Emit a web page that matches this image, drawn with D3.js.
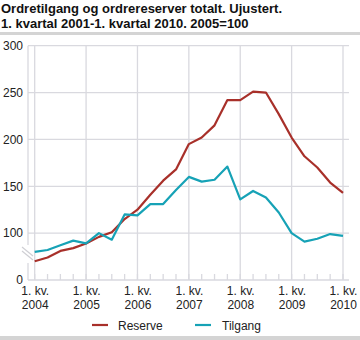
<!DOCTYPE html>
<html><head><meta charset="utf-8">
<script src="https://cdn.jsdelivr.net/npm/d3@7"></script>
<style>body{margin:0;background:#fff}svg{display:block;font-family:"Liberation Sans",Arial,sans-serif}</style>
</head><body><svg id="c" width="360" height="340"></svg>
<script>
const titleLines = ["Ordretilgang og ordrereserver totalt. Ujustert.", "1. kvartal 2001-1. kvartal 2010. 2005=100"];
const quarters = d3.range(25).map(i => `${2004 + Math.floor(i/4)}Q${i%4+1}`);
const yearLabels = ["2004","2005","2006","2007","2008","2009","2010"];
const yTicks = [50,100,150,200,250,300];
const reserve = [70,74,81,84,89,96,101,115,125,141,156,168,195,202,215,242,242,251,250,227,202,182,170,154,143];
const tilgang = [80,82,87,92,89,100,93,120,119,131,131,146,160,155,157,171,136,145,138,122,100,91,94,99,97];
const seriesNames = ["Reserve","Tilgang"];
const colors = ["#a8302a","#16a2b6"];

const svg = d3.select("#c");
const x = d3.scaleLinear().domain([0,24]).range([34.7,343]);
const y = d3.scaleLinear().domain([50,300]).range([280,45.7]);
const grid = "#d9d9df";

svg.append("rect").attr("x",0).attr("y",32).attr("width",360).attr("height",3).attr("fill","#d4d4d4");
svg.append("rect").attr("x",0).attr("y",336).attr("width",360).attr("height",4).attr("fill","#d4d4d4");
titleLines.forEach((t,i)=>svg.append("text").attr("x",1).attr("y",13+i*15).attr("font-size",13).attr("font-weight","bold").attr("fill","#111").text(t));

// horizontal grid
svg.append("g").selectAll("line").data(yTicks.filter(d=>d>50)).join("line")
  .attr("x1",28).attr("x2",349).attr("y1",d=>y(d)).attr("y2",d=>y(d)).attr("stroke",grid).attr("stroke-width",1.3);
// vertical year grid
svg.append("g").selectAll("line").data(d3.range(0,25,4)).join("line")
  .attr("x1",d=>x(d)).attr("x2",d=>x(d)).attr("y1",y(300)).attr("y2",y(50)).attr("stroke",grid).attr("stroke-width",1.3);
// left axis line with break
svg.append("line").attr("x1",28).attr("x2",28).attr("y1",y(300)).attr("y2",245).attr("stroke",grid).attr("stroke-width",1.3);
svg.append("line").attr("x1",28).attr("x2",28).attr("y1",263).attr("y2",280).attr("stroke",grid).attr("stroke-width",1.3);
svg.append("line").attr("x1",22).attr("x2",33).attr("y1",247).attr("y2",256).attr("stroke","#cfcfd4").attr("stroke-width",1.2);
svg.append("line").attr("x1",22).attr("x2",33).attr("y1",251).attr("y2",260).attr("stroke","#cfcfd4").attr("stroke-width",1.2);
// bottom axis
svg.append("line").attr("x1",28).attr("x2",349).attr("y1",280).attr("y2",280).attr("stroke",grid).attr("stroke-width",1.3);
svg.append("g").selectAll("line").data(d3.range(25)).join("line")
  .attr("x1",d=>x(d)).attr("x2",d=>x(d)).attr("y1",274).attr("y2",280).attr("stroke",grid).attr("stroke-width",1.3);

// y axis labels
const ya = svg.append("g").attr("transform","translate(23,0)")
  .call(d3.axisLeft(y).tickValues(yTicks).tickSize(0).tickPadding(0).tickFormat(d=>d===50?"0":d));
ya.select(".domain").remove();
ya.selectAll("text").attr("font-size",12).attr("fill","#222").attr("font-family","Liberation Sans, Arial, sans-serif");

// x axis labels
const xa = svg.append("g").attr("transform","translate(0,284)")
  .call(d3.axisBottom(x).tickValues(d3.range(0,25,4)).tickSize(0).tickPadding(0).tickFormat(()=>""));
xa.select(".domain").remove();
xa.selectAll(".tick").each(function(d,i){
  const g=d3.select(this);
  g.append("text").attr("y",11).attr("text-anchor","middle").attr("font-size",12).attr("fill","#222").text("1. kv.");
  g.append("text").attr("y",25).attr("text-anchor","middle").attr("font-size",12).attr("fill","#222").text(yearLabels[i]);
});

const line = d3.line().x((d,i)=>x(i)).y(d=>y(d));
[reserve,tilgang].forEach((s,k)=>svg.append("path").datum(s).attr("d",line).attr("fill","none")
  .attr("stroke",colors[k]).attr("stroke-width",2.2).attr("stroke-linejoin","round"));

// legend
const lg=[{x:92,tx:118},{x:195,tx:222}];
seriesNames.forEach((n,k)=>{
  svg.append("line").attr("x1",lg[k].x).attr("x2",lg[k].x+16).attr("y1",325).attr("y2",325).attr("stroke",colors[k]).attr("stroke-width",2.2);
  svg.append("text").attr("x",lg[k].tx).attr("y",329.5).attr("font-size",12).attr("fill","#222").text(n);
});
</script></body></html>
